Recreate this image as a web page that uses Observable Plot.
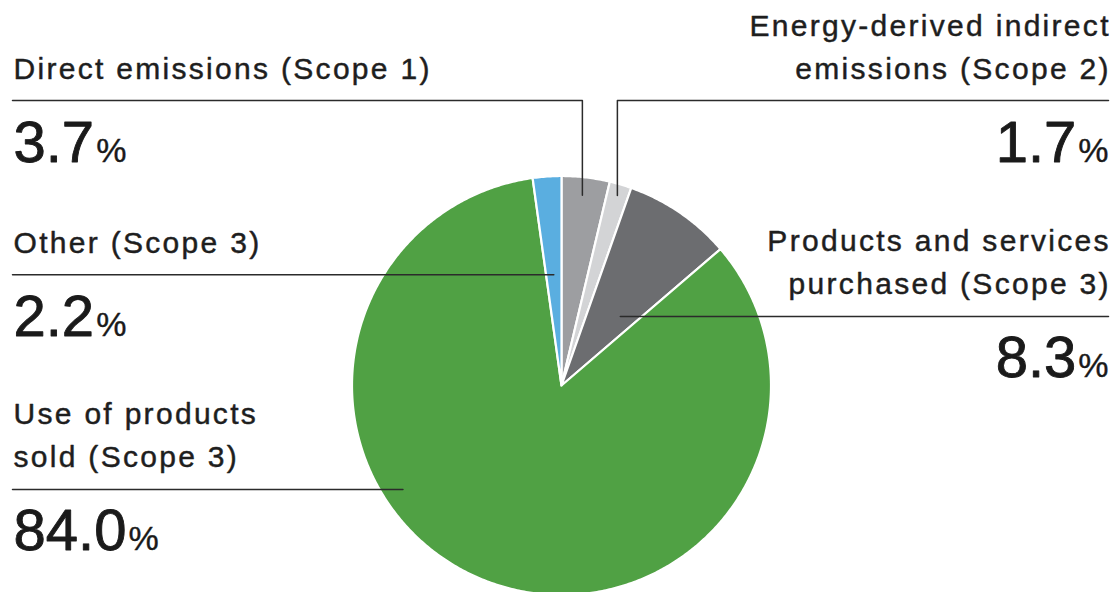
<!DOCTYPE html>
<html><head><meta charset="utf-8">
<script src="https://cdn.jsdelivr.net/npm/d3@7"></script>
<script src="https://cdn.jsdelivr.net/npm/@observablehq/plot@0.6"></script>
<style>body{margin:0;background:#fff;} #chart svg{display:block}</style>
</head><body><div id="chart"></div>
<script>
// ---- data ----
const categories = [
  "Direct emissions (Scope 1)",
  "Energy-derived indirect emissions (Scope 2)",
  "Products and services purchased (Scope 3)",
  "Use of products sold (Scope 3)",
  "Other (Scope 3)"
];
const labelLines = [
  ["Direct emissions (Scope 1)"],
  ["Energy-derived indirect", "emissions (Scope 2)"],
  ["Products and services", "purchased (Scope 3)"],
  ["Use of products", "sold (Scope 3)"],
  ["Other (Scope 3)"]
];
const shares = [3.7, 1.7, 8.3, 84.0, 2.2];
const colors = ["#9d9ea1", "#d3d4d6", "#6c6d70", "#50a144", "#5aaee0"];
const valueSuffix = "%";

// ---- layout ----
const W = 1115, H = 592;
const CX = 561, CY = 385, R = 209.5;
const sides = ["left", "right", "right", "left", "left"];
const anchorT = [0.47, 0.5, 0.70, 0.619, 0.5];     // position within slice (fraction of its angle)
const anchorRF = [0.913, 0.945, 0.433, 0.905, 0.53]; // radius fraction
const elbowRow = [100, 100, null, null, null];
const LEFT_X = 12, RIGHT_X = 1108, TEXT_LEFT = 13;
const LABEL_SIZE = 30, LABEL_LH = 43, VALUE_SIZE = 58, PCT_SIZE = 34, LS = 2.3;

const total = d3.sum(shares);
let acc = 0;
const slices = categories.map((name, i) => {
  const a0 = acc / total * 2 * Math.PI; acc += shares[i];
  const a1 = acc / total * 2 * Math.PI;
  return {name, share: shares[i], a0, a1, i};
});
const polar = (a, r) => ({x: CX + r * Math.sin(a), y: CY - r * Math.cos(a)});

const wedgePts = slices.flatMap(s => {
  const n = Math.max(2, Math.ceil((s.a1 - s.a0) / (Math.PI / 360)));
  const pts = [{name: s.name, ...polar(0, 0)}];
  for (let k = 0; k <= n; k++) pts.push({name: s.name, ...polar(s.a0 + (s.a1 - s.a0) * k / n, R)});
  return pts;
});

const leaderPts = [];
const labelRows = [];
slices.forEach((s, i) => {
  const p = polar(s.a0 + (s.a1 - s.a0) * anchorT[i], R * anchorRF[i]);
  const rowY = elbowRow[i] ?? p.y;
  const endX = sides[i] === "left" ? LEFT_X : RIGHT_X;
  leaderPts.push({name: s.name, x: endX, y: rowY});
  if (elbowRow[i] != null) leaderPts.push({name: s.name, x: p.x, y: rowY});
  leaderPts.push({name: s.name, x: p.x, y: p.y});
  labelRows.push({
    name: s.name, side: sides[i],
    text: labelLines[i].join("\n"),
    value: s.share.toFixed(1),
    x: sides[i] === "left" ? TEXT_LEFT : RIGHT_X + LS,
    xv: sides[i] === "left" ? TEXT_LEFT : RIGHT_X,
    yl: rowY - 22, yv: rowY + 61
  });
});

const left = labelRows.filter(d => d.side === "left");
const right = labelRows.filter(d => d.side === "right");

const chart = Plot.plot({
  width: W, height: H, margin: 0,
  x: {domain: [0, W], range: [0, W], axis: null},
  y: {domain: [0, H], range: [0, H], axis: null},
  color: {domain: categories, range: colors},
  style: {fontFamily: "'Liberation Sans', Arial, Helvetica, sans-serif", background: "#fff"},
  marks: [
    Plot.line(wedgePts, {x: "x", y: "y", z: "name", fill: "name", stroke: "#fff", strokeWidth: 2.2, curve: "linear-closed", strokeLinejoin: "round"}),
    Plot.line(leaderPts, {x: "x", y: "y", z: "name", stroke: "#2b2b2b", strokeWidth: 1.5}),
    Plot.text(left, {x: "x", y: "yl", text: "text", textAnchor: "start", lineAnchor: "bottom", lineHeight: LABEL_LH / LABEL_SIZE, fontSize: LABEL_SIZE, fill: "#1e1e1e", stroke: "#1e1e1e", strokeWidth: 0.45}),
    Plot.text(right, {x: "x", y: "yl", text: "text", textAnchor: "end", lineAnchor: "bottom", lineHeight: LABEL_LH / LABEL_SIZE, fontSize: LABEL_SIZE, fill: "#1e1e1e", stroke: "#1e1e1e", strokeWidth: 0.45}),
    Plot.text(left, {x: "xv", y: "yv", text: "value", textAnchor: "start", lineAnchor: "bottom", fontSize: VALUE_SIZE, fill: "#1a1a1a", stroke: "#1a1a1a", strokeWidth: 0.9}),
    Plot.text(right, {x: "xv", y: "yv", text: "value", textAnchor: "end", lineAnchor: "bottom", fontSize: VALUE_SIZE, fill: "#1a1a1a", stroke: "#1a1a1a", strokeWidth: 0.9})
  ]
});
const svg = d3.select(chart);
const textGroups = svg.selectAll('g[aria-label="text"]').nodes();
[textGroups[0], textGroups[1]].forEach(g => d3.select(g).selectAll("text").attr("letter-spacing", LS));
[textGroups[2], textGroups[3]].forEach(g => d3.select(g).selectAll("text").append("tspan").attr("font-size", PCT_SIZE).attr("stroke-width", 0.4).attr("dx", 2).text(valueSuffix));
document.getElementById("chart").appendChild(chart);
</script>
</body></html>
